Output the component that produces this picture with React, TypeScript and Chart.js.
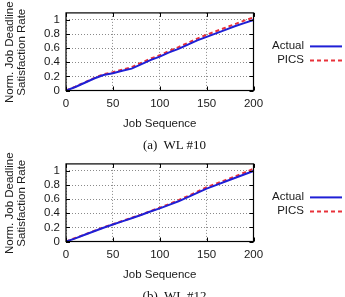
import React, { useEffect, useRef } from "react";
import { Chart, registerables } from "chart.js";

Chart.register(...registerables);

// Job sequence positions (x) shared by all series
const JOBS = [0, 10, 20, 30, 40, 50, 60, 70, 80, 90, 100, 110, 120, 130, 140, 150, 160, 170, 180, 190, 200];

// WL #10 normalized job deadline satisfaction rate
const WL10_ACTUAL = [0, 0.05, 0.11, 0.17, 0.22, 0.245, 0.28, 0.31, 0.37, 0.43, 0.48, 0.54, 0.59, 0.65, 0.71, 0.76, 0.81, 0.86, 0.91, 0.955, 1.0];
const WL10_PICS = [0, 0.055, 0.115, 0.175, 0.23, 0.26, 0.295, 0.33, 0.39, 0.45, 0.5, 0.56, 0.615, 0.675, 0.735, 0.79, 0.84, 0.89, 0.94, 0.99, 1.035];

// WL #12 normalized job deadline satisfaction rate
const WL12_ACTUAL = [0, 0.045, 0.095, 0.145, 0.195, 0.24, 0.285, 0.33, 0.375, 0.425, 0.47, 0.52, 0.57, 0.63, 0.69, 0.75, 0.8, 0.85, 0.9, 0.95, 1.0];
const WL12_PICS = [0, 0.05, 0.1, 0.15, 0.2, 0.245, 0.29, 0.335, 0.38, 0.43, 0.48, 0.53, 0.585, 0.645, 0.705, 0.77, 0.82, 0.87, 0.92, 0.975, 1.03];

const X_TICKS = [0, 50, 100, 150, 200];
const Y_TICKS = [0, 0.2, 0.4, 0.6, 0.8, 1];

const SERIES_LABELS = ["Actual", "PICS"];
const X_TITLE = "Job Sequence";
const Y_TITLE = ["Norm. Job Deadline", "Satisfaction Rate"];

const SANS = "'Liberation Sans', Arial, Helvetica, sans-serif";
const TEXT = "#1a1a1a";

const CANVAS_W = 345;
const CANVAS_H = 140;

// Frame, inward tick marks, axis titles and the gnuplot-style legend
const decorPlugin = {
  id: "decor",
  afterDraw(chart: any) {
    const { ctx, chartArea } = chart;
    const { left, right, top, bottom } = chartArea;
    const xs = chart.scales.x;
    const ys = chart.scales.y;
    ctx.save();

    // tick marks on all four sides, pointing inward
    ctx.strokeStyle = "#000";
    ctx.lineWidth = 1;
    ctx.beginPath();
    for (const v of X_TICKS) {
      const px = Math.round(xs.getPixelForValue(v)) + 0.5;
      ctx.moveTo(px, bottom);
      ctx.lineTo(px, bottom - 4);
      ctx.moveTo(px, top);
      ctx.lineTo(px, top + 4);
    }
    for (const v of Y_TICKS) {
      const py = Math.round(ys.getPixelForValue(v)) + 0.5;
      ctx.moveTo(left, py);
      ctx.lineTo(left + 4, py);
      ctx.moveTo(right, py);
      ctx.lineTo(right - 4, py);
    }
    ctx.stroke();

    // plot border
    ctx.strokeStyle = "#000";
    ctx.lineWidth = 1.2;
    ctx.strokeRect(left, top, right - left, bottom - top);

    // axis titles
    ctx.fillStyle = TEXT;
    ctx.font = `11.5px ${SANS}`;
    ctx.textAlign = "center";
    ctx.textBaseline = "middle";
    ctx.fillText(X_TITLE, (left + right) / 2, bottom + 33);

    ctx.save();
    ctx.translate(0, (top + bottom) / 2 + 0.5);
    ctx.rotate(-Math.PI / 2);
    ctx.fillText(Y_TITLE[0], 0, 10);
    ctx.fillText(Y_TITLE[1], 0, 22);
    ctx.restore();

    // legend: right-aligned label followed by a line sample
    chart.data.datasets.forEach((ds: any, i: number) => {
      const y = top + 33 + i * 14;
      ctx.fillStyle = TEXT;
      ctx.textAlign = "right";
      ctx.fillText(ds.label, 304, y);
      ctx.strokeStyle = ds.borderColor;
      ctx.lineWidth = ds.borderWidth;
      ctx.setLineDash(ds.borderDash || []);
      ctx.beginPath();
      ctx.moveTo(310, y + 0.5);
      ctx.lineTo(342, y + 0.5);
      ctx.stroke();
      ctx.setLineDash([]);
    });

    ctx.restore();
  },
};

function makeConfig(actual: number[], pics: number[]): any {
  return {
    type: "line",
    data: {
      datasets: [
        {
          label: SERIES_LABELS[0],
          data: JOBS.map((x, i) => ({ x, y: actual[i] })),
          borderColor: "#1f1fd6",
          borderWidth: 2,
          pointRadius: 0,
          tension: 0,
          fill: false,
        },
        {
          label: SERIES_LABELS[1],
          data: JOBS.map((x, i) => ({ x, y: pics[i] })),
          borderColor: "#e8323a",
          borderWidth: 2,
          borderDash: [4, 3],
          pointRadius: 0,
          tension: 0,
          fill: false,
        },
      ],
    },
    options: {
      animation: false,
      responsive: false,
      maintainAspectRatio: false,
      devicePixelRatio: 1,
      layout: { padding: { top: 10.7, right: 91.5, bottom: 0, left: 0 } },
      plugins: {
        legend: { display: false },
        tooltip: { enabled: false },
        title: { display: false },
      },
      scales: {
        x: {
          type: "linear",
          min: 0,
          max: 200,
          afterBuildTicks(scale: any) {
            scale.ticks = X_TICKS.map((v) => ({ value: v }));
          },
          afterFit(scale: any) {
            scale.height = CANVAS_H - 90.5;
          },
          ticks: {
            color: TEXT,
            font: { family: SANS, size: 11.5 },
            padding: 6,
            maxRotation: 0,
            autoSkip: false,
          },
          grid: {
            color: "#8a8a8a",
            lineWidth: 1,
            drawTicks: false,
          },
          border: { display: false, dash: [1, 2] },
        },
        y: {
          type: "linear",
          min: 0,
          max: 1.1,
          afterBuildTicks(scale: any) {
            scale.ticks = Y_TICKS.map((v) => ({ value: v }));
          },
          afterFit(scale: any) {
            scale.width = 66;
          },
          ticks: {
            color: TEXT,
            font: { family: SANS, size: 11.5 },
            padding: 6,
            autoSkip: false,
            callback: (v: number) => String(Number(v.toFixed(1))),
          },
          grid: {
            color: "#8a8a8a",
            lineWidth: 1,
            drawTicks: false,
          },
          border: { display: false, dash: [1, 2] },
        },
      },
    },
    plugins: [decorPlugin],
  };
}

function LineChart({ actual, pics, top }: { actual: number[]; pics: number[]; top: number }) {
  const ref = useRef<HTMLCanvasElement | null>(null);
  useEffect(() => {
    if (!ref.current) return;
    const chart = new Chart(ref.current, makeConfig(actual, pics));
    return () => chart.destroy();
  }, [actual, pics]);
  return (
    <canvas
      ref={ref}
      width={CANVAS_W}
      height={CANVAS_H}
      style={{ position: "absolute", left: 0, top, width: CANVAS_W, height: CANVAS_H }}
    />
  );
}

const captionStyle: React.CSSProperties = {
  position: "absolute",
  left: 0,
  width: 349,
  textAlign: "center",
  fontFamily: "'Liberation Serif', 'Times New Roman', serif",
  fontSize: 13,
  lineHeight: "16px",
  color: "#111",
  whiteSpace: "pre",
};

export default function App() {
  return (
    <div
      style={{
        position: "absolute",
        left: 0,
        top: 0,
        width: 345,
        height: 297,
        overflow: "hidden",
        background: "#fff",
      }}
    >
      <LineChart actual={WL10_ACTUAL} pics={WL10_PICS} top={0} />
      <div style={{ ...captionStyle, top: 137 }}>{"(a)  WL #10"}</div>
      <LineChart actual={WL12_ACTUAL} pics={WL12_PICS} top={151} />
      <div style={{ ...captionStyle, top: 288 }}>{"(b)  WL #12"}</div>
    </div>
  );
}
